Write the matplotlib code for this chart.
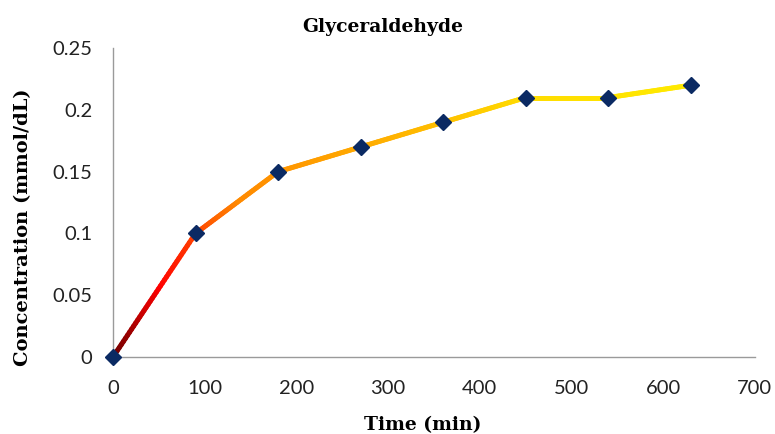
import numpy as np
import matplotlib
matplotlib.use("Agg")
import matplotlib.pyplot as plt
from matplotlib.collections import LineCollection
from matplotlib.colors import LinearSegmentedColormap

# Data
time_min = [0, 90, 180, 270, 360, 450, 540, 630]
concentration = [0, 0.10, 0.15, 0.17, 0.19, 0.21, 0.21, 0.22]
x_ticks = [0, 100, 200, 300, 400, 500, 600, 700]
y_ticks = [0, 0.05, 0.1, 0.15, 0.2, 0.25]
y_tick_labels = ["0", "0.05", "0.1", "0.15", "0.2", "0.25"]
title = "Glyceraldehyde"
xlabel = "Time (min)"
ylabel = "Concentration (mmol/dL)"

fig = plt.figure(figsize=(7.75, 4.34), dpi=100)
ax = fig.add_axes([0.1458, 0.1774, 0.974 - 0.1458, 0.889 - 0.1774])

# gradient line along x
cmap = LinearSegmentedColormap.from_list(
    "grad",
    [(0.0, "#6a0000"), (0.08, "#ff0000"), (0.15, "#ff4a00"), (0.22, "#ff8a00"),
     (0.35, "#ff9e00"), (0.55, "#ffbc00"), (0.72, "#ffdc00"), (1.0, "#ffea00")])
xs = np.asarray(time_min, dtype=float)
ys = np.asarray(concentration, dtype=float)
fine_x = []
fine_y = []
for i in range(len(xs) - 1):
    t = np.linspace(0, 1, 40, endpoint=False)
    fine_x.extend(xs[i] + (xs[i + 1] - xs[i]) * t)
    fine_y.extend(ys[i] + (ys[i + 1] - ys[i]) * t)
fine_x.append(xs[-1]); fine_y.append(ys[-1])
pts = np.column_stack([fine_x, fine_y]).reshape(-1, 1, 2)
segs = np.concatenate([pts[:-1], pts[1:]], axis=1)
mids = (np.array(fine_x[:-1]) + np.array(fine_x[1:])) / 2
lc = LineCollection(segs, colors=cmap(mids / xs.max()), linewidths=3.6,
                    capstyle="round", joinstyle="round", zorder=2)
ax.add_collection(lc)
ax.plot(time_min, concentration, linestyle="none", marker="D", markersize=8.5,
        color="#0b2a63", markeredgecolor="#0b2a63", zorder=3, clip_on=False)

ax.set_xlim(0, 700)
ax.set_ylim(0, 0.25)
ax.set_xticks(x_ticks)
ax.set_yticks(y_ticks)
ax.set_yticklabels(y_tick_labels)
for s in ["top", "right"]:
    ax.spines[s].set_visible(False)
for s in ["left", "bottom"]:
    ax.spines[s].set_color("#9a9a9a")
    ax.spines[s].set_linewidth(1.0)
ax.tick_params(length=0, labelsize=14.5, colors="#222222")
ax.tick_params(axis="x", pad=16.5)
ax.tick_params(axis="y", pad=15)
for lab in ax.get_xticklabels() + ax.get_yticklabels():
    lab.set_family(["Lato", "DejaVu Sans"])

serif = ["DejaVu Serif"]
ax.set_xlabel(xlabel, fontsize=13.5, fontweight="bold", family=serif)
ax.set_ylabel(ylabel, fontsize=14, fontweight="bold", family=serif)
ax.xaxis.set_label_coords(0.483, -0.19)
ax.yaxis.set_label_coords(-0.126, 0.42)
fig.text(0.494, 0.937, title, ha="center", va="center", fontsize=13.5,
         fontweight="bold", family=serif)

fig.savefig("out.png", dpi=100)
